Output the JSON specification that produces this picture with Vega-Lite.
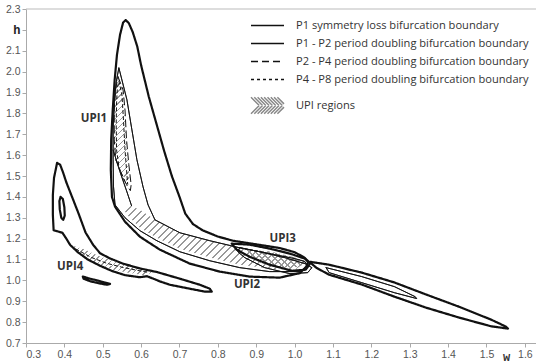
{
"$schema":"https://vega.github.io/schema/vega-lite/v6.json",
"width":510,"height":334,
"autosize":{"type":"none"},
"padding":{"left":26,"top":9,"right":0,"bottom":20},
"background":"white",
"config":{"view":{"stroke":null},"axis":{"grid":false,"domainColor":"#aaa","tickColor":"#aaa","tickSize":4,"labelFont":"Liberation Sans","labelFontSize":10.5,"labelColor":"#555","labelPadding":2,"labelOverlap":false,"labelBound":false}},
"datasets":{
"curves":[
{"c":"A","s":"P1","i":0,"x":0.524,"y":1.40},{"c":"A","s":"P1","i":1,"x":0.521,"y":1.53},{"c":"A","s":"P1","i":2,"x":0.522,"y":1.673},{"c":"A","s":"P1","i":3,"x":0.526,"y":1.817},{"c":"A","s":"P1","i":4,"x":0.531,"y":1.96},{"c":"A","s":"P1","i":5,"x":0.537,"y":2.08},{"c":"A","s":"P1","i":6,"x":0.545,"y":2.176},{"c":"A","s":"P1","i":7,"x":0.553,"y":2.235},{"c":"A","s":"P1","i":8,"x":0.56,"y":2.247},{"c":"A","s":"P1","i":9,"x":0.568,"y":2.232},{"c":"A","s":"P1","i":10,"x":0.578,"y":2.19},{"c":"A","s":"P1","i":11,"x":0.59,"y":2.12},{"c":"A","s":"P1","i":12,"x":0.60,"y":2.03},{"c":"A","s":"P1","i":13,"x":0.62,"y":1.88},{"c":"A","s":"P1","i":14,"x":0.64,"y":1.75},{"c":"A","s":"P1","i":15,"x":0.66,"y":1.62},{"c":"A","s":"P1","i":16,"x":0.68,"y":1.50},{"c":"A","s":"P1","i":17,"x":0.70,"y":1.40},{"c":"A","s":"P1","i":18,"x":0.715,"y":1.32},{"c":"A","s":"P1","i":19,"x":0.735,"y":1.27},{"c":"A","s":"P1","i":20,"x":0.76,"y":1.24},{"c":"A","s":"P1","i":21,"x":0.80,"y":1.21},{"c":"A","s":"P1","i":22,"x":0.839,"y":1.19},{"c":"A","s":"P1","i":23,"x":0.909,"y":1.17},{"c":"A","s":"P1","i":24,"x":0.961,"y":1.155},{"c":"A","s":"P1","i":25,"x":1.0,"y":1.135},{"c":"A","s":"P1","i":26,"x":1.025,"y":1.11},{"c":"A","s":"P1","i":27,"x":1.036,"y":1.09},{"c":"A","s":"P1","i":28,"x":1.03,"y":1.065},{"c":"A","s":"P1","i":29,"x":1.014,"y":1.035},{"c":"A","s":"P1","i":30,"x":0.961,"y":1.013},{"c":"A","s":"P1","i":31,"x":0.883,"y":1.018},{"c":"A","s":"P1","i":32,"x":0.805,"y":1.042},{"c":"A","s":"P1","i":33,"x":0.727,"y":1.08},{"c":"A","s":"P1","i":34,"x":0.649,"y":1.147},{"c":"A","s":"P1","i":35,"x":0.597,"y":1.209},{"c":"A","s":"P1","i":36,"x":0.558,"y":1.281},{"c":"A","s":"P1","i":37,"x":0.532,"y":1.353},{"c":"A","s":"P1","i":38,"x":0.524,"y":1.40},
{"c":"B","s":"P1","i":0,"x":0.381,"y":1.563},{"c":"B","s":"P1","i":1,"x":0.389,"y":1.554},{"c":"B","s":"P1","i":2,"x":0.397,"y":1.515},{"c":"B","s":"P1","i":3,"x":0.405,"y":1.47},{"c":"B","s":"P1","i":4,"x":0.42,"y":1.40},{"c":"B","s":"P1","i":5,"x":0.437,"y":1.32},{"c":"B","s":"P1","i":6,"x":0.455,"y":1.23},{"c":"B","s":"P1","i":7,"x":0.475,"y":1.17},{"c":"B","s":"P1","i":8,"x":0.493,"y":1.13},{"c":"B","s":"P1","i":9,"x":0.519,"y":1.105},{"c":"B","s":"P1","i":10,"x":0.553,"y":1.08},{"c":"B","s":"P1","i":11,"x":0.597,"y":1.057},{"c":"B","s":"P1","i":12,"x":0.641,"y":1.04},{"c":"B","s":"P1","i":13,"x":0.701,"y":1.008},{"c":"B","s":"P1","i":14,"x":0.753,"y":0.979},{"c":"B","s":"P1","i":15,"x":0.779,"y":0.96},{"c":"B","s":"P1","i":16,"x":0.784,"y":0.946},{"c":"B","s":"P1","i":17,"x":0.766,"y":0.946},{"c":"B","s":"P1","i":18,"x":0.727,"y":0.96},{"c":"B","s":"P1","i":19,"x":0.675,"y":0.979},{"c":"B","s":"P1","i":20,"x":0.649,"y":0.995},{"c":"B","s":"P1","i":21,"x":0.636,"y":1.005},{"c":"B","s":"P1","i":22,"x":0.615,"y":1.02},{"c":"B","s":"P1","i":23,"x":0.597,"y":1.015},{"c":"B","s":"P1","i":24,"x":0.558,"y":1.025},{"c":"B","s":"P1","i":25,"x":0.524,"y":1.045},{"c":"B","s":"P1","i":26,"x":0.493,"y":1.07},{"c":"B","s":"P1","i":27,"x":0.461,"y":1.1},{"c":"B","s":"P1","i":28,"x":0.435,"y":1.135},{"c":"B","s":"P1","i":29,"x":0.415,"y":1.17},{"c":"B","s":"P1","i":30,"x":0.405,"y":1.2},{"c":"B","s":"P1","i":31,"x":0.395,"y":1.228},{"c":"B","s":"P1","i":32,"x":0.38,"y":1.236},{"c":"B","s":"P1","i":33,"x":0.372,"y":1.24},{"c":"B","s":"P1","i":34,"x":0.37,"y":1.314},{"c":"B","s":"P1","i":35,"x":0.37,"y":1.41},{"c":"B","s":"P1","i":36,"x":0.373,"y":1.491},{"c":"B","s":"P1","i":37,"x":0.381,"y":1.563},
{"c":"L","s":"P1","i":0,"x":0.448,"y":1.018},{"c":"L","s":"P1","i":1,"x":0.467,"y":1.008},{"c":"L","s":"P1","i":2,"x":0.485,"y":1.0},{"c":"L","s":"P1","i":3,"x":0.505,"y":0.99},{"c":"L","s":"P1","i":4,"x":0.519,"y":0.983},{"c":"L","s":"P1","i":5,"x":0.511,"y":0.979},{"c":"L","s":"P1","i":6,"x":0.49,"y":0.986},{"c":"L","s":"P1","i":7,"x":0.467,"y":0.996},{"c":"L","s":"P1","i":8,"x":0.45,"y":1.008},{"c":"L","s":"P1","i":9,"x":0.448,"y":1.018},
{"c":"R","s":"P1","i":0,"x":1.04,"y":1.089},{"c":"R","s":"P1","i":1,"x":1.09,"y":1.075},{"c":"R","s":"P1","i":2,"x":1.175,"y":1.037},{"c":"R","s":"P1","i":3,"x":1.26,"y":0.99},{"c":"R","s":"P1","i":4,"x":1.343,"y":0.932},{"c":"R","s":"P1","i":5,"x":1.428,"y":0.874},{"c":"R","s":"P1","i":6,"x":1.512,"y":0.812},{"c":"R","s":"P1","i":7,"x":1.55,"y":0.779},{"c":"R","s":"P1","i":8,"x":1.556,"y":0.769},{"c":"R","s":"P1","i":9,"x":1.512,"y":0.78},{"c":"R","s":"P1","i":10,"x":1.428,"y":0.822},{"c":"R","s":"P1","i":11,"x":1.343,"y":0.869},{"c":"R","s":"P1","i":12,"x":1.26,"y":0.922},{"c":"R","s":"P1","i":13,"x":1.175,"y":0.98},{"c":"R","s":"P1","i":14,"x":1.09,"y":1.027},{"c":"R","s":"P1","i":15,"x":1.057,"y":1.06},{"c":"R","s":"P1","i":16,"x":1.044,"y":1.08},{"c":"R","s":"P1","i":17,"x":1.04,"y":1.089},
{"c":"U3a","s":"P1","i":0,"x":0.836,"y":1.176},{"c":"U3a","s":"P1","i":1,"x":0.883,"y":1.171},{"c":"U3a","s":"P1","i":2,"x":0.935,"y":1.152},{"c":"U3a","s":"P1","i":3,"x":0.988,"y":1.128},{"c":"U3a","s":"P1","i":4,"x":1.027,"y":1.104},{"c":"U3a","s":"P1","i":5,"x":1.04,"y":1.08},{"c":"U3a","s":"P1","i":6,"x":1.029,"y":1.051},{"c":"U3a","s":"P1","i":7,"x":0.993,"y":1.046},{"c":"U3a","s":"P1","i":8,"x":0.935,"y":1.075},{"c":"U3a","s":"P1","i":9,"x":0.883,"y":1.113},{"c":"U3a","s":"P1","i":10,"x":0.849,"y":1.147},{"c":"U3a","s":"P1","i":11,"x":0.836,"y":1.176},
{"c":"S","s":"P1","i":0,"x":0.39,"y":1.40},{"c":"S","s":"P1","i":1,"x":0.396,"y":1.39},{"c":"S","s":"P1","i":2,"x":0.40,"y":1.35},{"c":"S","s":"P1","i":3,"x":0.401,"y":1.31},{"c":"S","s":"P1","i":4,"x":0.397,"y":1.29},{"c":"S","s":"P1","i":5,"x":0.392,"y":1.30},{"c":"S","s":"P1","i":6,"x":0.388,"y":1.34},{"c":"S","s":"P1","i":7,"x":0.387,"y":1.38},{"c":"S","s":"P1","i":8,"x":0.39,"y":1.40},
{"c":"C1","s":"P12","i":0,"x":0.542,"y":2.018},{"c":"C1","s":"P12","i":1,"x":0.535,"y":1.95},{"c":"C1","s":"P12","i":2,"x":0.53,"y":1.85},{"c":"C1","s":"P12","i":3,"x":0.527,"y":1.72},{"c":"C1","s":"P12","i":4,"x":0.527,"y":1.58},{"c":"C1","s":"P12","i":5,"x":0.528,"y":1.45},{"c":"C1","s":"P12","i":6,"x":0.532,"y":1.362},{"c":"C1","s":"P12","i":7,"x":0.558,"y":1.30},{"c":"C1","s":"P12","i":8,"x":0.597,"y":1.238},{"c":"C1","s":"P12","i":9,"x":0.641,"y":1.19},{"c":"C1","s":"P12","i":10,"x":0.701,"y":1.137},{"c":"C1","s":"P12","i":11,"x":0.779,"y":1.094},{"c":"C1","s":"P12","i":12,"x":0.857,"y":1.061},{"c":"C1","s":"P12","i":13,"x":0.935,"y":1.042},{"c":"C1","s":"P12","i":14,"x":1.014,"y":1.042},{"c":"C1","s":"P12","i":15,"x":1.034,"y":1.07},{"c":"C1","s":"P12","i":16,"x":1.027,"y":1.09},{"c":"C1","s":"P12","i":17,"x":1.001,"y":1.104},{"c":"C1","s":"P12","i":18,"x":0.935,"y":1.128},{"c":"C1","s":"P12","i":19,"x":0.857,"y":1.156},{"c":"C1","s":"P12","i":20,"x":0.779,"y":1.19},{"c":"C1","s":"P12","i":21,"x":0.701,"y":1.228},{"c":"C1","s":"P12","i":22,"x":0.636,"y":1.29},{"c":"C1","s":"P12","i":23,"x":0.618,"y":1.362},{"c":"C1","s":"P12","i":24,"x":0.605,"y":1.448},{"c":"C1","s":"P12","i":25,"x":0.589,"y":1.578},{"c":"C1","s":"P12","i":26,"x":0.576,"y":1.721},{"c":"C1","s":"P12","i":27,"x":0.563,"y":1.865},{"c":"C1","s":"P12","i":28,"x":0.55,"y":1.96},{"c":"C1","s":"P12","i":29,"x":0.542,"y":2.018},
{"c":"C2","s":"P12","i":0,"x":0.527,"y":1.625},{"c":"C2","s":"P12","i":1,"x":0.545,"y":1.52},{"c":"C2","s":"P12","i":2,"x":0.563,"y":1.424},{"c":"C2","s":"P12","i":3,"x":0.575,"y":1.358},
{"c":"U3b","s":"P12","i":0,"x":0.857,"y":1.157},{"c":"U3b","s":"P12","i":1,"x":0.909,"y":1.137},{"c":"U3b","s":"P12","i":2,"x":0.974,"y":1.109},{"c":"U3b","s":"P12","i":3,"x":1.027,"y":1.08},{"c":"U3b","s":"P12","i":4,"x":1.045,"y":1.061},{"c":"U3b","s":"P12","i":5,"x":1.034,"y":1.037},{"c":"U3b","s":"P12","i":6,"x":0.988,"y":1.032},{"c":"U3b","s":"P12","i":7,"x":0.922,"y":1.061},{"c":"U3b","s":"P12","i":8,"x":0.87,"y":1.109},{"c":"U3b","s":"P12","i":9,"x":0.852,"y":1.137},{"c":"U3b","s":"P12","i":10,"x":0.857,"y":1.157},
{"c":"RI","s":"P12","i":0,"x":1.082,"y":1.061},{"c":"RI","s":"P12","i":1,"x":1.175,"y":1.018},{"c":"RI","s":"P12","i":2,"x":1.26,"y":0.970},{"c":"RI","s":"P12","i":3,"x":1.314,"y":0.922},{"c":"RI","s":"P12","i":4,"x":1.318,"y":0.913},{"c":"RI","s":"P12","i":5,"x":1.26,"y":0.941},{"c":"RI","s":"P12","i":6,"x":1.175,"y":0.989},{"c":"RI","s":"P12","i":7,"x":1.09,"y":1.037},{"c":"RI","s":"P12","i":8,"x":1.082,"y":1.061},
{"c":"D1","s":"P24","i":0,"x":0.54,"y":1.975},{"c":"D1","s":"P24","i":1,"x":0.553,"y":1.912},{"c":"D1","s":"P24","i":2,"x":0.558,"y":1.817},{"c":"D1","s":"P24","i":3,"x":0.562,"y":1.673},{"c":"D1","s":"P24","i":4,"x":0.568,"y":1.554},{"c":"D1","s":"P24","i":5,"x":0.574,"y":1.458},{"c":"D1","s":"P24","i":6,"x":0.572,"y":1.43},{"c":"D1","s":"P24","i":7,"x":0.562,"y":1.458},{"c":"D1","s":"P24","i":8,"x":0.547,"y":1.52},{"c":"D1","s":"P24","i":9,"x":0.534,"y":1.578},{"c":"D1","s":"P24","i":10,"x":0.53,"y":1.673},{"c":"D1","s":"P24","i":11,"x":0.53,"y":1.817},{"c":"D1","s":"P24","i":12,"x":0.533,"y":1.912},{"c":"D1","s":"P24","i":13,"x":0.54,"y":1.975},
{"c":"E1","s":"P48","i":0,"x":0.542,"y":1.955},{"c":"E1","s":"P48","i":1,"x":0.55,"y":1.889},{"c":"E1","s":"P48","i":2,"x":0.554,"y":1.769},{"c":"E1","s":"P48","i":3,"x":0.558,"y":1.625},{"c":"E1","s":"P48","i":4,"x":0.563,"y":1.506},{"c":"E1","s":"P48","i":5,"x":0.565,"y":1.46},{"c":"E1","s":"P48","i":6,"x":0.557,"y":1.475},{"c":"E1","s":"P48","i":7,"x":0.543,"y":1.535},{"c":"E1","s":"P48","i":8,"x":0.536,"y":1.625},{"c":"E1","s":"P48","i":9,"x":0.535,"y":1.75},{"c":"E1","s":"P48","i":10,"x":0.536,"y":1.85},{"c":"E1","s":"P48","i":11,"x":0.538,"y":1.92},{"c":"E1","s":"P48","i":12,"x":0.542,"y":1.955},
{"c":"E4","s":"P48","i":0,"x":0.43,"y":1.15},{"c":"E4","s":"P48","i":1,"x":0.47,"y":1.11},{"c":"E4","s":"P48","i":2,"x":0.51,"y":1.082},{"c":"E4","s":"P48","i":3,"x":0.55,"y":1.063},{"c":"E4","s":"P48","i":4,"x":0.59,"y":1.048},{"c":"E4","s":"P48","i":5,"x":0.62,"y":1.038}
],
"hatch":[
{"c":"H1","i":0,"x":0.54,"y":1.975},{"c":"H1","i":1,"x":0.55,"y":1.93},{"c":"H1","i":2,"x":0.555,"y":1.85},{"c":"H1","i":3,"x":0.559,"y":1.75},{"c":"H1","i":4,"x":0.563,"y":1.65},{"c":"H1","i":5,"x":0.567,"y":1.55},{"c":"H1","i":6,"x":0.57,"y":1.48},{"c":"H1","i":7,"x":0.564,"y":1.47},{"c":"H1","i":8,"x":0.553,"y":1.50},{"c":"H1","i":9,"x":0.54,"y":1.54},{"c":"H1","i":10,"x":0.531,"y":1.58},{"c":"H1","i":11,"x":0.529,"y":1.68},{"c":"H1","i":12,"x":0.53,"y":1.80},{"c":"H1","i":13,"x":0.533,"y":1.91},{"c":"H1","i":14,"x":0.54,"y":1.975},
{"c":"H2","i":0,"x":0.553,"y":1.348},{"c":"H2","i":1,"x":0.571,"y":1.357},{"c":"H2","i":2,"x":0.597,"y":1.338},{"c":"H2","i":3,"x":0.636,"y":1.29},{"c":"H2","i":4,"x":0.701,"y":1.228},{"c":"H2","i":5,"x":0.779,"y":1.19},{"c":"H2","i":6,"x":0.857,"y":1.156},{"c":"H2","i":7,"x":0.935,"y":1.128},{"c":"H2","i":8,"x":1.001,"y":1.104},{"c":"H2","i":9,"x":1.027,"y":1.085},{"c":"H2","i":10,"x":1.001,"y":1.051},{"c":"H2","i":11,"x":0.935,"y":1.056},{"c":"H2","i":12,"x":0.857,"y":1.075},{"c":"H2","i":13,"x":0.779,"y":1.109},{"c":"H2","i":14,"x":0.701,"y":1.152},{"c":"H2","i":15,"x":0.641,"y":1.204},{"c":"H2","i":16,"x":0.597,"y":1.252},{"c":"H2","i":17,"x":0.566,"y":1.31},{"c":"H2","i":18,"x":0.553,"y":1.343},
{"c":"H3","i":0,"x":0.87,"y":1.15},{"c":"H3","i":1,"x":0.935,"y":1.138},{"c":"H3","i":2,"x":0.99,"y":1.115},{"c":"H3","i":3,"x":1.025,"y":1.095},{"c":"H3","i":4,"x":1.03,"y":1.08},{"c":"H3","i":5,"x":1.0,"y":1.06},{"c":"H3","i":6,"x":0.95,"y":1.063},{"c":"H3","i":7,"x":0.9,"y":1.09},{"c":"H3","i":8,"x":0.872,"y":1.12},{"c":"H3","i":9,"x":0.87,"y":1.15},
{"c":"H4","i":0,"x":0.415,"y":1.17},{"c":"H4","i":1,"x":0.45,"y":1.15},{"c":"H4","i":2,"x":0.49,"y":1.117},{"c":"H4","i":3,"x":0.53,"y":1.092},{"c":"H4","i":4,"x":0.57,"y":1.075},{"c":"H4","i":5,"x":0.61,"y":1.056},{"c":"H4","i":6,"x":0.63,"y":1.038},{"c":"H4","i":7,"x":0.61,"y":1.025},{"c":"H4","i":8,"x":0.57,"y":1.035},{"c":"H4","i":9,"x":0.53,"y":1.05},{"c":"H4","i":10,"x":0.49,"y":1.075},{"c":"H4","i":11,"x":0.45,"y":1.11},{"c":"H4","i":12,"x":0.415,"y":1.17}
],
"labels":[{"t":"UPI1","x":0.477,"y":1.773},{"t":"UPI2","x":0.876,"y":0.978},{"t":"UPI3","x":0.969,"y":1.198},{"t":"UPI4","x":0.415,"y":1.066}]
},
"layer":[
{"data":{"name":"hatch"},"transform":[{"filter":"datum.c=='H2'"}],
"mark":{"type":"line","strokeWidth":0,"fill":{"gradient":"linear","x1":0,"y1":0,"x2":1.203,"y2":0.422,"stops":[
{"offset":0,"color":"#999"},{"offset":0.008,"color":"#999"},{"offset":0.008,"color":"#fff"},{"offset":0.03,"color":"#fff"},
{"offset":0.03,"color":"#999"},{"offset":0.038,"color":"#999"},{"offset":0.038,"color":"#fff"},{"offset":0.06,"color":"#fff"},
{"offset":0.06,"color":"#999"},{"offset":0.068,"color":"#999"},{"offset":0.068,"color":"#fff"},{"offset":0.09,"color":"#fff"},
{"offset":0.09,"color":"#999"},{"offset":0.098,"color":"#999"},{"offset":0.098,"color":"#fff"},{"offset":0.12,"color":"#fff"},
{"offset":0.12,"color":"#999"},{"offset":0.128,"color":"#999"},{"offset":0.128,"color":"#fff"},{"offset":0.15,"color":"#fff"},
{"offset":0.15,"color":"#999"},{"offset":0.158,"color":"#999"},{"offset":0.158,"color":"#fff"},{"offset":0.18,"color":"#fff"},
{"offset":0.18,"color":"#999"},{"offset":0.188,"color":"#999"},{"offset":0.188,"color":"#fff"},{"offset":0.21,"color":"#fff"},
{"offset":0.21,"color":"#999"},{"offset":0.218,"color":"#999"},{"offset":0.218,"color":"#fff"},{"offset":0.24,"color":"#fff"},
{"offset":0.24,"color":"#999"},{"offset":0.248,"color":"#999"},{"offset":0.248,"color":"#fff"},{"offset":0.27,"color":"#fff"},
{"offset":0.27,"color":"#999"},{"offset":0.278,"color":"#999"},{"offset":0.278,"color":"#fff"},{"offset":0.30,"color":"#fff"},
{"offset":0.30,"color":"#999"},{"offset":0.308,"color":"#999"},{"offset":0.308,"color":"#fff"},{"offset":0.33,"color":"#fff"},
{"offset":0.33,"color":"#999"},{"offset":0.338,"color":"#999"},{"offset":0.338,"color":"#fff"},{"offset":0.36,"color":"#fff"},
{"offset":0.36,"color":"#999"},{"offset":0.368,"color":"#999"},{"offset":0.368,"color":"#fff"},{"offset":0.39,"color":"#fff"},
{"offset":0.39,"color":"#999"},{"offset":0.398,"color":"#999"},{"offset":0.398,"color":"#fff"},{"offset":0.42,"color":"#fff"},
{"offset":0.42,"color":"#999"},{"offset":0.428,"color":"#999"},{"offset":0.428,"color":"#fff"},{"offset":0.45,"color":"#fff"},
{"offset":0.45,"color":"#999"},{"offset":0.458,"color":"#999"},{"offset":0.458,"color":"#fff"},{"offset":0.48,"color":"#fff"},
{"offset":0.48,"color":"#999"},{"offset":0.488,"color":"#999"},{"offset":0.488,"color":"#fff"},{"offset":0.51,"color":"#fff"},
{"offset":0.51,"color":"#999"},{"offset":0.518,"color":"#999"},{"offset":0.518,"color":"#fff"},{"offset":0.54,"color":"#fff"},
{"offset":0.54,"color":"#999"},{"offset":0.548,"color":"#999"},{"offset":0.548,"color":"#fff"},{"offset":0.57,"color":"#fff"},
{"offset":0.57,"color":"#999"},{"offset":0.578,"color":"#999"},{"offset":0.578,"color":"#fff"},{"offset":0.60,"color":"#fff"},
{"offset":0.60,"color":"#999"},{"offset":0.608,"color":"#999"},{"offset":0.608,"color":"#fff"},{"offset":0.63,"color":"#fff"},
{"offset":0.63,"color":"#999"},{"offset":0.638,"color":"#999"},{"offset":0.638,"color":"#fff"},{"offset":0.66,"color":"#fff"},
{"offset":0.66,"color":"#999"},{"offset":0.668,"color":"#999"},{"offset":0.668,"color":"#fff"},{"offset":0.69,"color":"#fff"},
{"offset":0.69,"color":"#999"},{"offset":0.698,"color":"#999"},{"offset":0.698,"color":"#fff"},{"offset":0.72,"color":"#fff"},
{"offset":0.72,"color":"#999"},{"offset":0.728,"color":"#999"},{"offset":0.728,"color":"#fff"},{"offset":0.75,"color":"#fff"},
{"offset":0.75,"color":"#999"},{"offset":0.758,"color":"#999"},{"offset":0.758,"color":"#fff"},{"offset":0.78,"color":"#fff"},
{"offset":0.78,"color":"#999"},{"offset":0.788,"color":"#999"},{"offset":0.788,"color":"#fff"},{"offset":0.81,"color":"#fff"},
{"offset":0.81,"color":"#999"},{"offset":0.818,"color":"#999"},{"offset":0.818,"color":"#fff"},{"offset":0.84,"color":"#fff"},
{"offset":0.84,"color":"#999"},{"offset":0.848,"color":"#999"},{"offset":0.848,"color":"#fff"},{"offset":0.87,"color":"#fff"},
{"offset":0.87,"color":"#999"},{"offset":0.878,"color":"#999"},{"offset":0.878,"color":"#fff"},{"offset":0.90,"color":"#fff"},
{"offset":0.90,"color":"#999"},{"offset":0.908,"color":"#999"},{"offset":0.908,"color":"#fff"},{"offset":0.93,"color":"#fff"},
{"offset":0.93,"color":"#999"},{"offset":0.938,"color":"#999"},{"offset":0.938,"color":"#fff"},{"offset":0.96,"color":"#fff"},
{"offset":0.96,"color":"#999"},{"offset":0.968,"color":"#999"},{"offset":0.968,"color":"#fff"},{"offset":0.99,"color":"#fff"},
{"offset":0.99,"color":"#999"},{"offset":0.998,"color":"#999"},{"offset":0.998,"color":"#fff"},{"offset":1,"color":"#fff"}]}},
"encoding":{
"x":{"field":"x","type":"quantitative","scale":{"domain":[0.3,1.629],"nice":false,"zero":false},"axis":{"values":[0.3,0.4,0.5,0.6,0.7,0.8,0.9,1.0,1.1,1.2,1.3,1.4,1.5,1.6],"tickCount":40,"format":".1f","labelOverlap":false,"labelBound":false,"title":"w","titleFont":"Liberation Mono","titleFontWeight":"bold","titleFontSize":12,"titleColor":"#333","titleX":480,"titleY":17,"titleAlign":"center","titleBaseline":"alphabetic","titleAnchor":null}},
"y":{"field":"y","type":"quantitative","scale":{"domain":[0.7,2.3],"nice":false,"zero":false},"axis":{"values":[0.7,0.8,0.9,1.0,1.1,1.2,1.3,1.4,1.5,1.6,1.7,1.8,1.9,2.0,2.1,2.2,2.3],"tickCount":40,"labelOverlap":false,"labelBound":false,"title":null,"labelExpr":"datum.value == 2.2 ? 'h' : format(datum.value, '.1f')","labelFont":{"condition":{"test":"datum.value == 2.2","value":"Liberation Mono"},"value":"Liberation Sans"},"labelFontWeight":{"condition":{"test":"datum.value == 2.2","value":"bold"},"value":"normal"},"labelFontSize":{"condition":{"test":"datum.value == 2.2","value":12},"value":10.5},"labelColor":{"condition":{"test":"datum.value == 2.2","value":"#222"},"value":"#555"}}},
"order":{"field":"i","type":"quantitative"},
"stroke":{"datum":"UPI regions","scale":{"range":["#888"]},
"legend":{"orient":"none","legendX":235,"legendY":90,"title":null,"symbolType":"M-3,-1.5L-1.5,0M-2.4,-1.5L-0.9,0M-1.8,-1.5L-0.3,0M-1.2,-1.5L0.3,0M-0.6,-1.5L0.9,0M0,-1.5L1.5,0M0.6,-1.5L2.1,0M1.2,-1.5L2.7,0M1.8,-1.5L3,-0.3M-3,1.5L-1.5,0M-2.4,1.5L-0.9,0M-1.8,1.5L-0.3,0M-1.2,1.5L0.3,0M-0.6,1.5L0.9,0M0,1.5L1.5,0M0.6,1.5L2.1,0M1.2,1.5L2.7,0M1.8,1.5L3,0.3","symbolSize":121,"labelOffset":22,"labelFont":"Open Sans","labelFontSize":11.1,"labelColor":"#333",
"encode":{"symbols":{"strokeWidth":{"value":0.9},"stroke":{"value":"#888"},"fill":{"value":"transparent"},"opacity":{"value":1}}}}}}},
{"data":{"name":"hatch"},"transform":[{"filter":"datum.c=='H1'"}],
"mark":{"type":"line","strokeWidth":0,"fill":{"gradient":"linear","x1":0,"y1":0,"x2":0.167,"y2":1.122,"stops":[
{"offset":0,"color":"#999"},{"offset":0.012,"color":"#999"},{"offset":0.012,"color":"#fff"},{"offset":0.05,"color":"#fff"},
{"offset":0.05,"color":"#999"},{"offset":0.062,"color":"#999"},{"offset":0.062,"color":"#fff"},{"offset":0.10,"color":"#fff"},
{"offset":0.10,"color":"#999"},{"offset":0.112,"color":"#999"},{"offset":0.112,"color":"#fff"},{"offset":0.15,"color":"#fff"},
{"offset":0.15,"color":"#999"},{"offset":0.162,"color":"#999"},{"offset":0.162,"color":"#fff"},{"offset":0.20,"color":"#fff"},
{"offset":0.20,"color":"#999"},{"offset":0.212,"color":"#999"},{"offset":0.212,"color":"#fff"},{"offset":0.25,"color":"#fff"},
{"offset":0.25,"color":"#999"},{"offset":0.262,"color":"#999"},{"offset":0.262,"color":"#fff"},{"offset":0.30,"color":"#fff"},
{"offset":0.30,"color":"#999"},{"offset":0.312,"color":"#999"},{"offset":0.312,"color":"#fff"},{"offset":0.35,"color":"#fff"},
{"offset":0.35,"color":"#999"},{"offset":0.362,"color":"#999"},{"offset":0.362,"color":"#fff"},{"offset":0.40,"color":"#fff"},
{"offset":0.40,"color":"#999"},{"offset":0.412,"color":"#999"},{"offset":0.412,"color":"#fff"},{"offset":0.45,"color":"#fff"},
{"offset":0.45,"color":"#999"},{"offset":0.462,"color":"#999"},{"offset":0.462,"color":"#fff"},{"offset":0.50,"color":"#fff"},
{"offset":0.50,"color":"#999"},{"offset":0.512,"color":"#999"},{"offset":0.512,"color":"#fff"},{"offset":0.55,"color":"#fff"},
{"offset":0.55,"color":"#999"},{"offset":0.562,"color":"#999"},{"offset":0.562,"color":"#fff"},{"offset":0.60,"color":"#fff"},
{"offset":0.60,"color":"#999"},{"offset":0.612,"color":"#999"},{"offset":0.612,"color":"#fff"},{"offset":0.65,"color":"#fff"},
{"offset":0.65,"color":"#999"},{"offset":0.662,"color":"#999"},{"offset":0.662,"color":"#fff"},{"offset":0.70,"color":"#fff"},
{"offset":0.70,"color":"#999"},{"offset":0.712,"color":"#999"},{"offset":0.712,"color":"#fff"},{"offset":0.75,"color":"#fff"},
{"offset":0.75,"color":"#999"},{"offset":0.762,"color":"#999"},{"offset":0.762,"color":"#fff"},{"offset":0.80,"color":"#fff"},
{"offset":0.80,"color":"#999"},{"offset":0.812,"color":"#999"},{"offset":0.812,"color":"#fff"},{"offset":0.85,"color":"#fff"},
{"offset":0.85,"color":"#999"},{"offset":0.862,"color":"#999"},{"offset":0.862,"color":"#fff"},{"offset":0.90,"color":"#fff"},
{"offset":0.90,"color":"#999"},{"offset":0.912,"color":"#999"},{"offset":0.912,"color":"#fff"},{"offset":0.95,"color":"#fff"},
{"offset":0.95,"color":"#999"},{"offset":0.962,"color":"#999"},{"offset":0.962,"color":"#fff"},{"offset":1,"color":"#fff"}]}},
"encoding":{"x":{"field":"x","type":"quantitative"},"y":{"field":"y","type":"quantitative"},"order":{"field":"i","type":"quantitative"}}},
{"data":{"name":"hatch"},"transform":[{"filter":"datum.c=='H4'"}],
"mark":{"type":"line","strokeWidth":0,"fill":{"gradient":"linear","x1":0,"y1":0,"x2":1.205,"y2":0.446,"stops":[
{"offset":0,"color":"#999"},{"offset":0.014,"color":"#999"},{"offset":0.014,"color":"#fff"},{"offset":0.05,"color":"#fff"},
{"offset":0.05,"color":"#999"},{"offset":0.064,"color":"#999"},{"offset":0.064,"color":"#fff"},{"offset":0.10,"color":"#fff"},
{"offset":0.10,"color":"#999"},{"offset":0.114,"color":"#999"},{"offset":0.114,"color":"#fff"},{"offset":0.15,"color":"#fff"},
{"offset":0.15,"color":"#999"},{"offset":0.164,"color":"#999"},{"offset":0.164,"color":"#fff"},{"offset":0.20,"color":"#fff"},
{"offset":0.20,"color":"#999"},{"offset":0.214,"color":"#999"},{"offset":0.214,"color":"#fff"},{"offset":0.25,"color":"#fff"},
{"offset":0.25,"color":"#999"},{"offset":0.264,"color":"#999"},{"offset":0.264,"color":"#fff"},{"offset":0.30,"color":"#fff"},
{"offset":0.30,"color":"#999"},{"offset":0.314,"color":"#999"},{"offset":0.314,"color":"#fff"},{"offset":0.35,"color":"#fff"},
{"offset":0.35,"color":"#999"},{"offset":0.364,"color":"#999"},{"offset":0.364,"color":"#fff"},{"offset":0.40,"color":"#fff"},
{"offset":0.40,"color":"#999"},{"offset":0.414,"color":"#999"},{"offset":0.414,"color":"#fff"},{"offset":0.45,"color":"#fff"},
{"offset":0.45,"color":"#999"},{"offset":0.464,"color":"#999"},{"offset":0.464,"color":"#fff"},{"offset":0.50,"color":"#fff"},
{"offset":0.50,"color":"#999"},{"offset":0.514,"color":"#999"},{"offset":0.514,"color":"#fff"},{"offset":0.55,"color":"#fff"},
{"offset":0.55,"color":"#999"},{"offset":0.564,"color":"#999"},{"offset":0.564,"color":"#fff"},{"offset":0.60,"color":"#fff"},
{"offset":0.60,"color":"#999"},{"offset":0.614,"color":"#999"},{"offset":0.614,"color":"#fff"},{"offset":0.65,"color":"#fff"},
{"offset":0.65,"color":"#999"},{"offset":0.664,"color":"#999"},{"offset":0.664,"color":"#fff"},{"offset":0.70,"color":"#fff"},
{"offset":0.70,"color":"#999"},{"offset":0.714,"color":"#999"},{"offset":0.714,"color":"#fff"},{"offset":0.75,"color":"#fff"},
{"offset":0.75,"color":"#999"},{"offset":0.764,"color":"#999"},{"offset":0.764,"color":"#fff"},{"offset":0.80,"color":"#fff"},
{"offset":0.80,"color":"#999"},{"offset":0.814,"color":"#999"},{"offset":0.814,"color":"#fff"},{"offset":0.85,"color":"#fff"},
{"offset":0.85,"color":"#999"},{"offset":0.864,"color":"#999"},{"offset":0.864,"color":"#fff"},{"offset":0.90,"color":"#fff"},
{"offset":0.90,"color":"#999"},{"offset":0.914,"color":"#999"},{"offset":0.914,"color":"#fff"},{"offset":0.95,"color":"#fff"},
{"offset":0.95,"color":"#999"},{"offset":0.964,"color":"#999"},{"offset":0.964,"color":"#fff"},{"offset":1,"color":"#fff"}]}},
"encoding":{"x":{"field":"x","type":"quantitative"},"y":{"field":"y","type":"quantitative"},"order":{"field":"i","type":"quantitative"}}},
{"data":{"name":"hatch"},"transform":[{"filter":"datum.c=='H3'"}],
"mark":{"type":"line","strokeWidth":0,"fill":{"gradient":"linear","x1":0,"y1":0,"x2":1.194,"y2":0.366,"stops":[
{"offset":0,"color":"#999"},{"offset":0.025,"color":"#999"},{"offset":0.025,"color":"#fff"},{"offset":0.08,"color":"#fff"},
{"offset":0.08,"color":"#999"},{"offset":0.105,"color":"#999"},{"offset":0.105,"color":"#fff"},{"offset":0.16,"color":"#fff"},
{"offset":0.16,"color":"#999"},{"offset":0.185,"color":"#999"},{"offset":0.185,"color":"#fff"},{"offset":0.24,"color":"#fff"},
{"offset":0.24,"color":"#999"},{"offset":0.265,"color":"#999"},{"offset":0.265,"color":"#fff"},{"offset":0.32,"color":"#fff"},
{"offset":0.32,"color":"#999"},{"offset":0.345,"color":"#999"},{"offset":0.345,"color":"#fff"},{"offset":0.40,"color":"#fff"},
{"offset":0.40,"color":"#999"},{"offset":0.425,"color":"#999"},{"offset":0.425,"color":"#fff"},{"offset":0.48,"color":"#fff"},
{"offset":0.48,"color":"#999"},{"offset":0.505,"color":"#999"},{"offset":0.505,"color":"#fff"},{"offset":0.56,"color":"#fff"},
{"offset":0.56,"color":"#999"},{"offset":0.585,"color":"#999"},{"offset":0.585,"color":"#fff"},{"offset":0.64,"color":"#fff"},
{"offset":0.64,"color":"#999"},{"offset":0.665,"color":"#999"},{"offset":0.665,"color":"#fff"},{"offset":0.72,"color":"#fff"},
{"offset":0.72,"color":"#999"},{"offset":0.745,"color":"#999"},{"offset":0.745,"color":"#fff"},{"offset":0.80,"color":"#fff"},
{"offset":0.80,"color":"#999"},{"offset":0.825,"color":"#999"},{"offset":0.825,"color":"#fff"},{"offset":0.88,"color":"#fff"},
{"offset":0.88,"color":"#999"},{"offset":0.905,"color":"#999"},{"offset":0.905,"color":"#fff"},{"offset":0.96,"color":"#fff"},
{"offset":0.96,"color":"#999"},{"offset":0.985,"color":"#999"},{"offset":0.985,"color":"#fff"},{"offset":1,"color":"#fff"}]}},
"encoding":{"x":{"field":"x","type":"quantitative"},"y":{"field":"y","type":"quantitative"},"order":{"field":"i","type":"quantitative"}}},
{"data":{"name":"hatch"},"transform":[{"filter":"datum.c=='H3'"}],
"mark":{"type":"line","strokeWidth":0,"fill":{"gradient":"linear","x1":0,"y1":1,"x2":1.194,"y2":0.634,"stops":[
{"offset":0,"color":"#999"},{"offset":0.025,"color":"#999"},{"offset":0.025,"color":"rgba(255,255,255,0)"},{"offset":0.08,"color":"rgba(255,255,255,0)"},
{"offset":0.08,"color":"#999"},{"offset":0.105,"color":"#999"},{"offset":0.105,"color":"rgba(255,255,255,0)"},{"offset":0.16,"color":"rgba(255,255,255,0)"},
{"offset":0.16,"color":"#999"},{"offset":0.185,"color":"#999"},{"offset":0.185,"color":"rgba(255,255,255,0)"},{"offset":0.24,"color":"rgba(255,255,255,0)"},
{"offset":0.24,"color":"#999"},{"offset":0.265,"color":"#999"},{"offset":0.265,"color":"rgba(255,255,255,0)"},{"offset":0.32,"color":"rgba(255,255,255,0)"},
{"offset":0.32,"color":"#999"},{"offset":0.345,"color":"#999"},{"offset":0.345,"color":"rgba(255,255,255,0)"},{"offset":0.40,"color":"rgba(255,255,255,0)"},
{"offset":0.40,"color":"#999"},{"offset":0.425,"color":"#999"},{"offset":0.425,"color":"rgba(255,255,255,0)"},{"offset":0.48,"color":"rgba(255,255,255,0)"},
{"offset":0.48,"color":"#999"},{"offset":0.505,"color":"#999"},{"offset":0.505,"color":"rgba(255,255,255,0)"},{"offset":0.56,"color":"rgba(255,255,255,0)"},
{"offset":0.56,"color":"#999"},{"offset":0.585,"color":"#999"},{"offset":0.585,"color":"rgba(255,255,255,0)"},{"offset":0.64,"color":"rgba(255,255,255,0)"},
{"offset":0.64,"color":"#999"},{"offset":0.665,"color":"#999"},{"offset":0.665,"color":"rgba(255,255,255,0)"},{"offset":0.72,"color":"rgba(255,255,255,0)"},
{"offset":0.72,"color":"#999"},{"offset":0.745,"color":"#999"},{"offset":0.745,"color":"rgba(255,255,255,0)"},{"offset":0.80,"color":"rgba(255,255,255,0)"},
{"offset":0.80,"color":"#999"},{"offset":0.825,"color":"#999"},{"offset":0.825,"color":"rgba(255,255,255,0)"},{"offset":0.88,"color":"rgba(255,255,255,0)"},
{"offset":0.88,"color":"#999"},{"offset":0.905,"color":"#999"},{"offset":0.905,"color":"rgba(255,255,255,0)"},{"offset":0.96,"color":"rgba(255,255,255,0)"},
{"offset":0.96,"color":"#999"},{"offset":0.985,"color":"#999"},{"offset":0.985,"color":"rgba(255,255,255,0)"},{"offset":1,"color":"rgba(255,255,255,0)"}]}},
"encoding":{"x":{"field":"x","type":"quantitative"},"y":{"field":"y","type":"quantitative"},"order":{"field":"i","type":"quantitative"}}},
{"data":{"name":"curves"},
"mark":{"type":"line","color":"#111","strokeJoin":"round","strokeCap":"round"},
"encoding":{
"x":{"field":"x","type":"quantitative"},
"y":{"field":"y","type":"quantitative"},
"detail":{"field":"c"},
"order":{"field":"i","type":"quantitative"},
"strokeDash":{"field":"s","type":"nominal","scale":{"domain":["P1","P12","P24","P48"],"range":[[1,0],[1,0],[7,4],[3,3]]},
"legend":{"orient":"none","legendX":235,"legendY":10,"title":null,"symbolType":"M-3,0H3","symbolSize":121,"labelOffset":22,"rowPadding":6,"labelFont":"Open Sans","labelFontSize":11.1,"labelColor":"#333","labelLimit":400,
"labelExpr":"datum.value == 'P1' ? 'P1 symmetry loss bifurcation boundary' : datum.value == 'P12' ? 'P1 - P2 period doubling bifurcation boundary' : datum.value == 'P24' ? 'P2 - P4 period doubling bifurcation boundary' : 'P4 - P8 period doubling bifurcation boundary'",
"encode":{"symbols":{
"size":{"value":121},
"strokeWidth":{"signal":"datum.value == 'P1' ? 2.2 : 1"},
"stroke":{"value":"#111"},
"fill":{"value":"transparent"}}}}},
"strokeWidth":{"condition":{"test":"datum.s == 'P1'","value":2.2},"value":1}}},
{"data":{"values":[{}]},"mark":{"type":"rule","color":"#bbb","strokeWidth":1},"encoding":{"y":{"datum":2.3}}},
{"data":{"name":"labels"},"mark":{"type":"text","font":"Open Sans","fontWeight":"bold","fontSize":11.5,"color":"#333"},
"encoding":{"x":{"field":"x","type":"quantitative"},"y":{"field":"y","type":"quantitative"},"text":{"field":"t"}}}
]
}
